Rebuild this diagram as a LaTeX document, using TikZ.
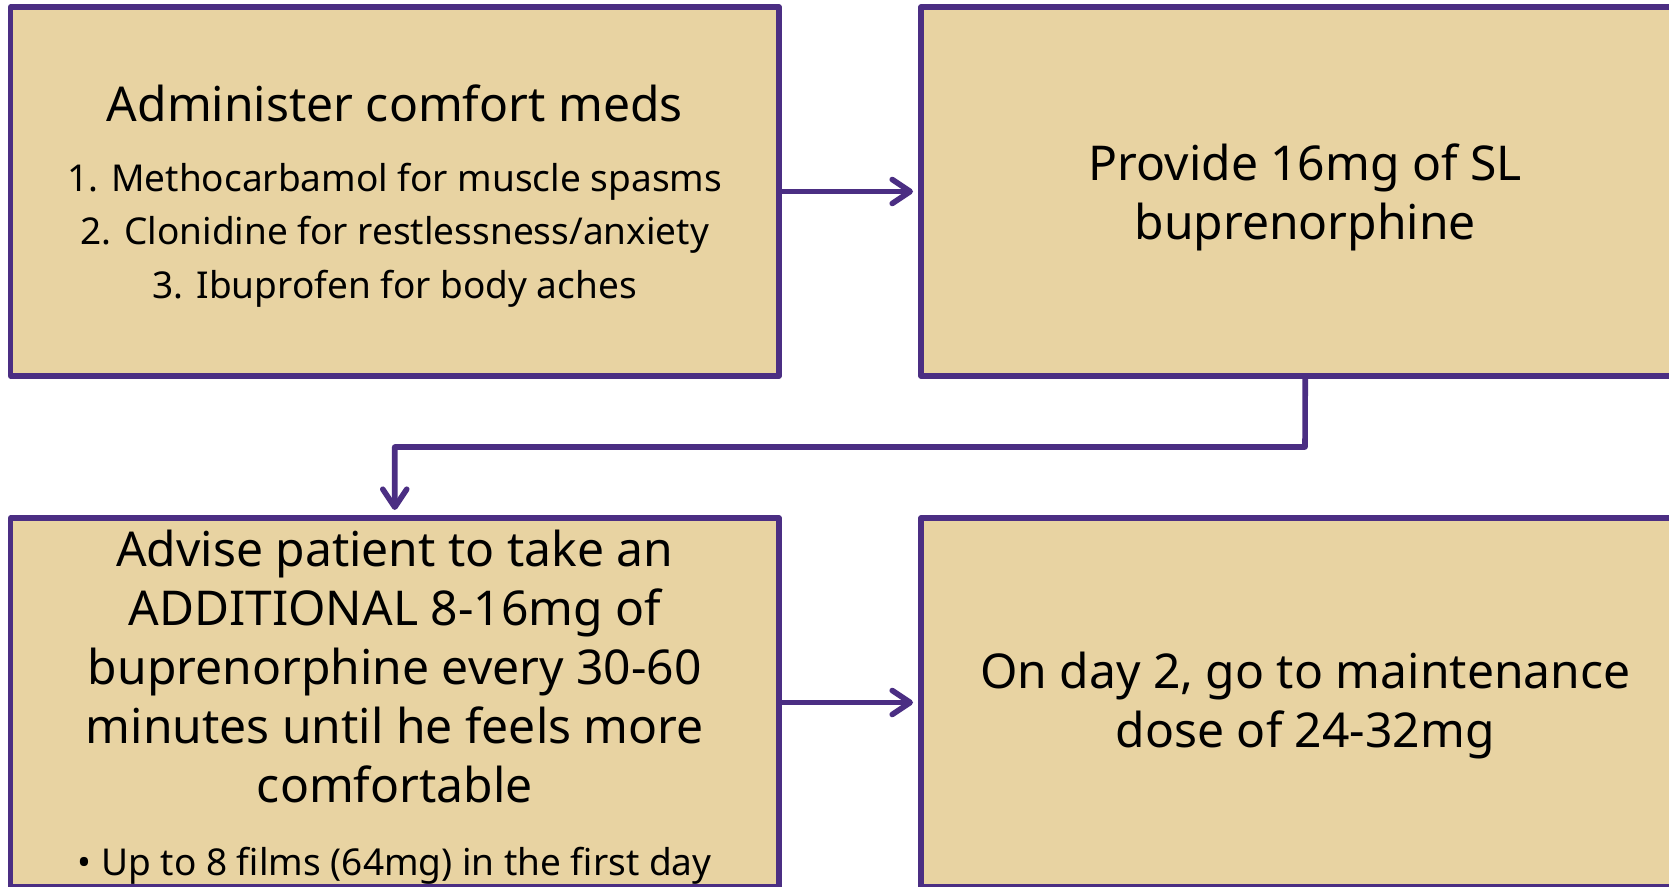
\documentclass[tikz,border=0pt]{standalone}
\usepackage{fontspec}
\setmainfont{Noto Sans}
\usetikzlibrary{arrows.meta}
\usetikzlibrary{calc}

\definecolor{boxfill}{HTML}{E8D3A2}
\definecolor{boxline}{HTML}{4B2E83}

\tikzset{
  stepbox/.style={draw=boxline, fill=boxfill, line width=2.6pt, line join=round,
    anchor=north west, outer sep=0pt, inner sep=0pt, align=center, text depth=0pt,
    minimum width=384.25pt, minimum height=184.5pt},
  bigtext/.style={font=\fontsize{24}{29.5}\selectfont},
  listtext/.style={font=\fontsize{18.5}{26.8}\selectfont},
  flow/.style={draw=boxline, line width=2.8pt, line cap=round, line join=round,
    -{Straight Barb[length=9pt,width=12pt,round]}}
}

\begin{document}
\begin{tikzpicture}[x=0.5pt,y=-0.5pt]
        \useasboundingbox (0,0) rectangle (1669,887);
        % boxes
        \node[stepbox, listtext] (comfort) at (10.5,7)
          {{\fontsize{24}{29.5}\selectfont Administer comfort meds}\\[8.1pt]
           1. Methocarbamol for muscle spasms\\
           2. Clonidine for restlessness/anxiety\\
           3. Ibuprofen for body aches};
        \node[stepbox, bigtext] (provide) at (921,7)
          {Provide 16mg of SL\\ buprenorphine};
        \node[stepbox, bigtext] (advise) at (10.5,518)
          {Advise patient to take an\\ ADDITIONAL 8-16mg of\\
           buprenorphine every 30-60\\ minutes until he feels more\\
           comfortable\\[7pt]
           {\fontsize{18.5}{26.8}\selectfont \textbullet\ Up to 8 films (64mg) in the first day}};
        \node[stepbox, bigtext, text depth=3pt] (maint) at (921,518)
          {On day 2, go to maintenance\\ dose of 24-32mg};
        % connectors
        \coordinate (bend) at (1305,447);
        \draw[flow] (comfort.east) -- ($(provide.west)+(-8,0)$);
        \draw[flow] (provide.south) -- (bend) -| ($(advise.north)+(0,-8)$);
        \draw[flow] (advise.east) -- ($(maint.west)+(-8,0)$);
    \end{tikzpicture}
\end{document}
